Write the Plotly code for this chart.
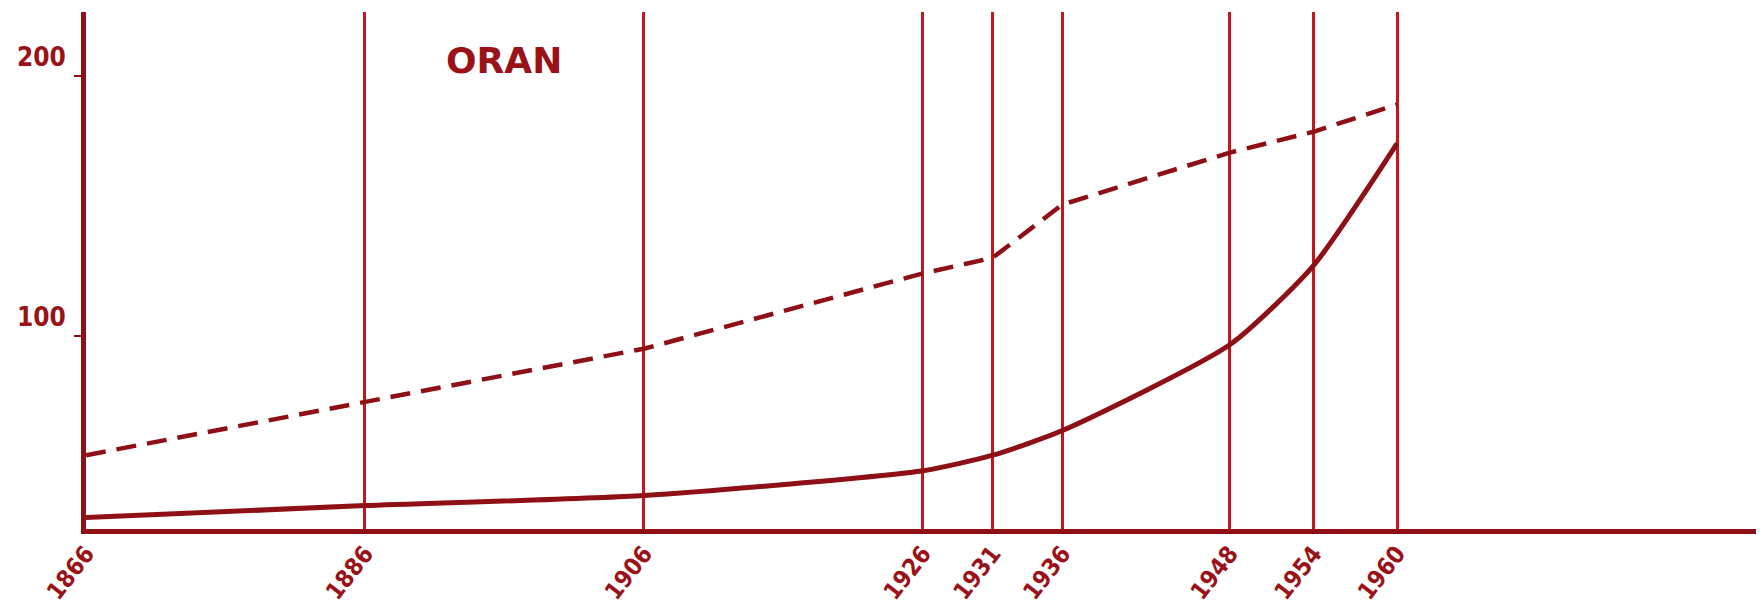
import plotly.graph_objects as go

years = [1866, 1886, 1906, 1926, 1931, 1936, 1948, 1954, 1960]
dashed_values = [54, 74.5, 95, 124, 130, 150.5, 170.5, 178.5, 189]
solid_values = [30, 34.6, 38.5, 48, 54, 63.5, 96.5, 127, 174]
y_ticks = [100, 200]
title_text = "ORAN"

dark = "#8E1016"
grid_red = "#C4161C"
text_red = "#9A1218"
tick_font = "Liberation Sans Narrow, DejaVu Sans Condensed, sans-serif"

fig = go.Figure()
fig.add_trace(go.Scatter(
    x=years, y=dashed_values, mode="lines",
    line=dict(color=dark, width=4.5, dash="20px,11px"),
    hoverinfo="skip", showlegend=False,
))
fig.add_trace(go.Scatter(
    x=years, y=solid_values, mode="lines",
    line=dict(color=dark, width=5, shape="spline", smoothing=0.6),
    hoverinfo="skip", showlegend=False,
))

fig.add_annotation(
    text=title_text, x=1896.0, y=205.8, xref="x", yref="y",
    showarrow=False,
    font=dict(family="DejaVu Sans", size=36, color=text_red, weight="bold"),
)

fig.update_xaxes(
    range=[1866, 1985.8],
    tickvals=years, ticktext=[str(y) for y in years],
    tickangle=-52,
    tickfont=dict(family=tick_font, size=24, color=text_red, weight="bold"),
    ticklabelstandoff=-4,
    showgrid=True, gridcolor=grid_red, gridwidth=3,
    showline=True, linecolor=dark, linewidth=5,
    ticks="", zeroline=False, automargin=False,
)
fig.update_yaxes(
    range=[25.6, 224.6],
    tickvals=y_ticks,
    ticklabelposition="outside top",
    ticklabelstandoff=10,
    tickfont=dict(family=tick_font, size=26, color=text_red, weight="bold"),
    showgrid=False,
    showline=True, linecolor=dark, linewidth=5,
    ticks="outside", ticklen=7, tickwidth=2, tickcolor=dark,
    zeroline=False, automargin=False,
)
fig.update_layout(
    width=1764, height=610,
    margin=dict(l=78, r=15, t=4, b=88.5),
    plot_bgcolor="white", paper_bgcolor="white",
)
fig.write_html("out.html")
